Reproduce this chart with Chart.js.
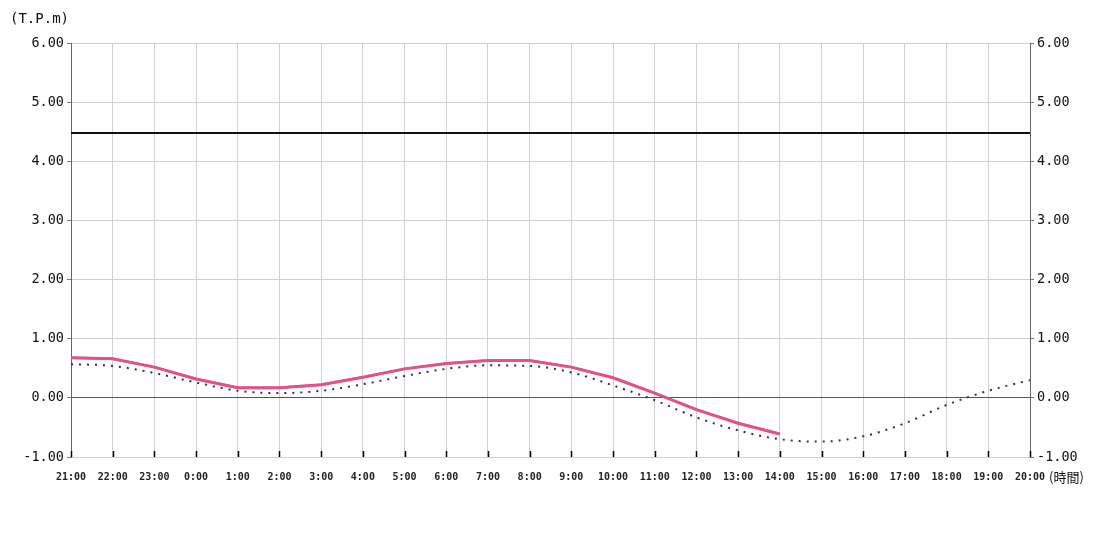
<!DOCTYPE html>
<html>
<head>
<meta charset="utf-8">
<script src="https://cdn.jsdelivr.net/npm/chart.js@4"></script>
<style>
  body { margin: 0; background: #fff; }
  #wrap { width: 1100px; height: 550px; }
</style>
</head>
<body>
<div id="wrap"><canvas id="tide"></canvas></div>
<script>
var hours = ['21:00', '22:00', '23:00', '0:00', '1:00', '2:00', '3:00', '4:00', '5:00', '6:00', '7:00', '8:00',
  '9:00', '10:00', '11:00', '12:00', '13:00', '14:00', '15:00', '16:00', '17:00', '18:00', '19:00', '20:00'];

// observed level (T.P. m), up to 14:00
var observed = [0.68, 0.66, 0.52, 0.32, 0.17, 0.17, 0.22, 0.35, 0.49, 0.58, 0.63, 0.63,
  0.52, 0.34, 0.08, -0.20, -0.43, -0.61, null, null, null, null, null, null];

// predicted tide
var predicted = [0.57, 0.54, 0.42, 0.26, 0.12, 0.08, 0.12, 0.23, 0.37, 0.49, 0.55, 0.54,
  0.43, 0.21, -0.04, -0.33, -0.55, -0.70, -0.74, -0.65, -0.43, -0.12, 0.12, 0.30];

// warning level
var warnLevel = 4.48;

var yTicks = [-1, 0, 1, 2, 3, 4, 5, 6];

var mono = 'DejaVu Sans Mono';

var extras = {
  id: 'extras',
  afterDraw: function (chart) {
    var c = chart.ctx;
    var x = chart.scales.x;
    var area = chart.chartArea;
    c.save();
    // inward ticks on the time axis
    c.strokeStyle = '#000';
    c.lineWidth = 1.5;
    for (var i = 0; i < hours.length; i++) {
      var px = Math.round(x.getPixelForTick(i)) + 0.5;
      c.beginPath();
      c.moveTo(px, area.bottom);
      c.lineTo(px, area.bottom - 6);
      c.stroke();
    }
    c.fillStyle = '#111';
    c.font = '14px "' + mono + '"';
    c.textBaseline = 'middle';
    c.textAlign = 'left';
    c.fillText('(T.P.m)', 10, 19);
    c.font = '13px "Noto Sans CJK JP"';
    c.fillText('(時間)', 1049, 477);
    c.restore();
  }
};

new Chart(document.getElementById('tide'), {
  type: 'line',
  data: {
    labels: hours,
    datasets: [
      {
        label: 'warn',
        data: hours.map(function () { return warnLevel; }),
        borderColor: '#111',
        borderWidth: 2,
        pointRadius: 0
      },
      {
        label: 'observed',
        data: observed,
        borderColor: '#f24d78',
        borderWidth: 2.5,
        pointRadius: 0,
        spanGaps: false
      },
      {
        label: 'observed2',
        data: observed,
        borderColor: '#a070d0',
        borderWidth: 3,
        pointRadius: 0,
        spanGaps: false
      },
      {
        label: 'predicted',
        data: predicted,
        borderColor: '#333',
        borderWidth: 2,
        borderDash: [2, 6],
        pointRadius: 0,
        cubicInterpolationMode: 'monotone'
      }
    ]
  },
  options: {
    responsive: true,
    maintainAspectRatio: false,
    animation: false,
    layout: { padding: { top: 43, left: 0, right: 0, bottom: 0 } },
    plugins: { legend: { display: false }, tooltip: { enabled: false } },
    scales: {
      x: {
        grid: { color: '#d0d0d0', drawTicks: false },
        border: { color: '#d0d0d0' },
        ticks: {
          color: '#222',
          font: { family: mono, size: 10, weight: 'bold' },
          maxRotation: 0,
          autoSkip: false,
          padding: 14
        },
        afterFit: function (s) { s.height = 93; }
      },
      y: {
        position: 'left',
        min: -1,
        max: 6,
        afterBuildTicks: function (s) { s.ticks = yTicks.map(function (v) { return { value: v }; }); },
        grid: {
          color: function (ctx) { return ctx.tick && ctx.tick.value === 0 ? '#555' : '#d0d0d0'; },
          tickColor: '#777',
          tickLength: 4
        },
        border: { color: '#666' },
        ticks: {
          color: '#111',
          font: { family: mono, size: 13.5 },
          padding: 3,
          callback: function (v) { return Number(v).toFixed(2); }
        },
        afterFit: function (s) { s.width = 71; }
      },
      y2: {
        position: 'right',
        min: -1,
        max: 6,
        afterBuildTicks: function (s) { s.ticks = yTicks.map(function (v) { return { value: v }; }); },
        grid: { drawOnChartArea: false, tickColor: '#777', tickLength: 4 },
        border: { color: '#666' },
        ticks: {
          color: '#111',
          font: { family: mono, size: 13.5 },
          padding: 3,
          callback: function (v) { return Number(v).toFixed(2); }
        },
        afterFit: function (s) { s.width = 70; }
      }
    }
  },
  plugins: [extras]
});
</script>
</body>
</html>
